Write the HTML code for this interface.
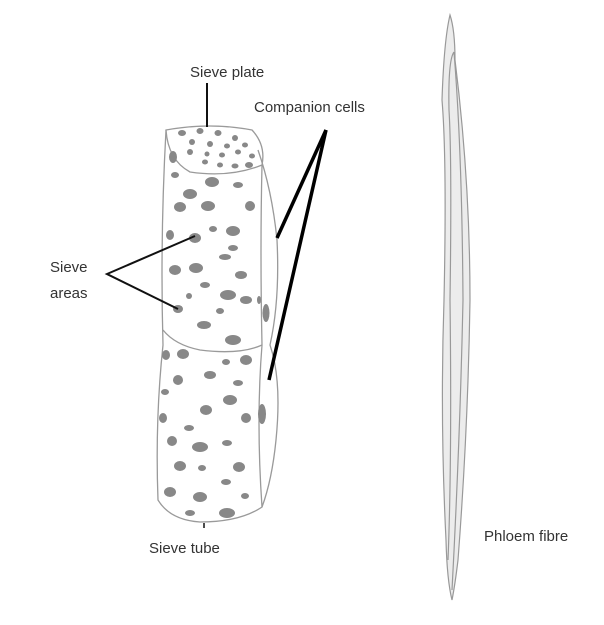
<!DOCTYPE html>
<html><head><meta charset="utf-8"><style>
html,body{margin:0;padding:0;background:#fff;width:604px;height:625px;overflow:hidden}
svg text{font-family:"Liberation Sans",sans-serif;font-size:15px;fill:#333}
</style></head><body>
<svg width="604" height="625" viewBox="0 0 604 625" xmlns="http://www.w3.org/2000/svg">
<g fill="none" stroke="#9a9a9a" stroke-width="1.3">
<!-- companion cell -->
<path d="M258 150 Q272 190 277 240 Q280 300 270 345 Q282 380 276 440 Q272 480 262 507"/>
<!-- sieve tube outline -->
<path d="M166 130 Q160 240 163 345 Q155 420 158 500 Q170 520 200 522 Q240 522 262 507 Q256 420 262 345 Q260 250 262 165"/>
<path d="M166 130 Q210 122 252 130 Q266 145 262 165 Q230 178 190 172 Q168 160 166 130Z"/>
<path d="M163 330 Q175 345 200 350 Q240 355 262 345"/>
</g>
<g fill="#888">
<!-- top plate dots -->
<ellipse cx="182" cy="133" rx="4" ry="3"/><ellipse cx="200" cy="131" rx="3.5" ry="3"/><ellipse cx="218" cy="133" rx="3.5" ry="3"/><ellipse cx="235" cy="138" rx="3" ry="3"/>
<ellipse cx="192" cy="142" rx="3" ry="3"/><ellipse cx="210" cy="144" rx="3" ry="3"/><ellipse cx="227" cy="146" rx="3" ry="2.5"/><ellipse cx="245" cy="145" rx="3" ry="2.5"/>
<ellipse cx="190" cy="152" rx="3" ry="3"/><ellipse cx="207" cy="154" rx="2.5" ry="2.5"/><ellipse cx="222" cy="155" rx="3" ry="2.5"/><ellipse cx="238" cy="152" rx="3" ry="2.5"/><ellipse cx="252" cy="156" rx="3" ry="2.5"/>
<ellipse cx="205" cy="162" rx="3" ry="2.5"/><ellipse cx="220" cy="165" rx="3" ry="2.5"/><ellipse cx="235" cy="166" rx="3.5" ry="2.5"/><ellipse cx="249" cy="165" rx="4" ry="3"/>
<!-- body spots upper -->
<ellipse cx="173" cy="157" rx="4" ry="6"/><ellipse cx="212" cy="182" rx="7" ry="5"/><ellipse cx="238" cy="185" rx="5" ry="3"/><ellipse cx="175" cy="175" rx="4" ry="3"/>
<ellipse cx="190" cy="194" rx="7" ry="5"/><ellipse cx="180" cy="207" rx="6" ry="5"/><ellipse cx="208" cy="206" rx="7" ry="5"/><ellipse cx="250" cy="206" rx="5" ry="5"/>
<ellipse cx="213" cy="229" rx="4" ry="3"/><ellipse cx="233" cy="231" rx="7" ry="5"/><ellipse cx="170" cy="235" rx="4" ry="5"/><ellipse cx="195" cy="238" rx="6" ry="5"/>
<ellipse cx="233" cy="248" rx="5" ry="3"/><ellipse cx="225" cy="257" rx="6" ry="3"/><ellipse cx="175" cy="270" rx="6" ry="5"/><ellipse cx="196" cy="268" rx="7" ry="5"/>
<ellipse cx="241" cy="275" rx="6" ry="4"/><ellipse cx="205" cy="285" rx="5" ry="3"/><ellipse cx="228" cy="295" rx="8" ry="5"/><ellipse cx="178" cy="309" rx="5" ry="4"/>
<ellipse cx="189" cy="296" rx="3" ry="3"/><ellipse cx="220" cy="311" rx="4" ry="3"/><ellipse cx="246" cy="300" rx="6" ry="4"/><ellipse cx="204" cy="325" rx="7" ry="4"/>
<ellipse cx="233" cy="340" rx="8" ry="5"/><ellipse cx="259" cy="300" rx="2" ry="4"/>
<ellipse cx="266" cy="313" rx="3.5" ry="9"/><ellipse cx="262" cy="414" rx="4" ry="10"/>
<!-- lower -->
<ellipse cx="166" cy="355" rx="4" ry="5"/><ellipse cx="183" cy="354" rx="6" ry="5"/><ellipse cx="226" cy="362" rx="4" ry="3"/><ellipse cx="246" cy="360" rx="6" ry="5"/>
<ellipse cx="178" cy="380" rx="5" ry="5"/><ellipse cx="210" cy="375" rx="6" ry="4"/><ellipse cx="238" cy="383" rx="5" ry="3"/>
<ellipse cx="165" cy="392" rx="4" ry="3"/><ellipse cx="230" cy="400" rx="7" ry="5"/><ellipse cx="206" cy="410" rx="6" ry="5"/><ellipse cx="246" cy="418" rx="5" ry="5"/><ellipse cx="163" cy="418" rx="4" ry="5"/>
<ellipse cx="189" cy="428" rx="5" ry="3"/><ellipse cx="172" cy="441" rx="5" ry="5"/><ellipse cx="200" cy="447" rx="8" ry="5"/><ellipse cx="227" cy="443" rx="5" ry="3"/>
<ellipse cx="180" cy="466" rx="6" ry="5"/><ellipse cx="202" cy="468" rx="4" ry="3"/><ellipse cx="239" cy="467" rx="6" ry="5"/><ellipse cx="226" cy="482" rx="5" ry="3"/>
<ellipse cx="170" cy="492" rx="6" ry="5"/><ellipse cx="200" cy="497" rx="7" ry="5"/><ellipse cx="245" cy="496" rx="4" ry="3"/><ellipse cx="190" cy="513" rx="5" ry="3"/><ellipse cx="227" cy="513" rx="8" ry="5"/>
</g>
<!-- leader lines -->
<g stroke="#111" stroke-width="2" fill="none">
<line x1="207" y1="83" x2="207" y2="127"/>
<polyline points="195,236 107,274 178,309"/>
</g>
<g stroke="#000" stroke-width="3.5" fill="none">
<line x1="326" y1="130" x2="277" y2="238"/>
<line x1="326" y1="130" x2="269" y2="380"/>
</g>
<line x1="204" y1="523" x2="204" y2="528" stroke="#111" stroke-width="1.5"/>
<!-- phloem fibre -->
<g stroke="#999" stroke-width="1.2" fill="#ececec">
<path d="M450 15 Q455 30 455 60 Q470 180 470 300 Q468 430 458 560 Q455 585 452 600 Q447 580 446 540 Q440 420 444 300 Q447 160 442 100 Q444 40 450 15Z"/>
<path d="M454 52 Q448 60 449 110 Q452 160 450 300 Q452 460 448 560" fill="none"/>
<path d="M454 52 Q462 150 463 300 Q460 440 452 590" fill="none"/>
</g>
<text x="190" y="77">Sieve plate</text>
<text x="254" y="112">Companion cells</text>
<text x="50" y="272">Sieve</text>
<text x="50" y="298">areas</text>
<text x="149" y="553">Sieve tube</text>
<text x="484" y="541">Phloem fibre</text>
</svg>
</body></html>
